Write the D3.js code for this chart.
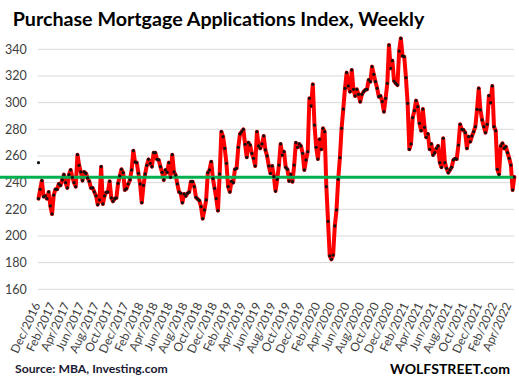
<!DOCTYPE html>
<html><head><meta charset="utf-8">
<script src="https://cdn.jsdelivr.net/npm/d3@7"></script>
<style>body{margin:0;background:#fff}svg{display:block}</style>
</head><body>
<svg id="chart" width="519" height="391"></svg>
<script>
const chartTitle = "Purchase Mortgage Applications Index, Weekly";
const sourceText = "Source: MBA, Investing.com";
const brandText = "WOLFSTREET.com";
const firstWeek = "2016-12-02";
const strayFirstValue = 255;
const referenceLevel = 244;
const yTickValues = [160, 180, 200, 220, 240, 260, 280, 300, 320, 340];
const xTickLabels = ["Dec/2016","Feb/2017","Apr/2017","Jun/2017","Aug/2017","Oct/2017","Dec/2017",
  "Feb/2018","Apr/2018","Jun/2018","Aug/2018","Oct/2018","Dec/2018","Feb/2019","Apr/2019","Jun/2019",
  "Aug/2019","Oct/2019","Dec/2019","Feb/2020","Apr/2020","Jun/2020","Aug/2020","Oct/2020","Dec/2020",
  "Feb/2021","Apr/2021","Jun/2021","Aug/2021","Oct/2021","Dec/2021","Feb/2022","Apr/2022"];
const purchaseIndex = [
228, 235, 241.5, 229.5, 230, 228, 233, 222.5, 216.5, 230.7,
235, 235, 239, 238, 242, 246, 240, 236, 246, 249.5,
244, 240, 237, 261, 253, 248, 241.5, 248, 247, 243.5,
241, 236, 236, 233, 230, 223.5, 227, 252, 224, 230,
232.7, 233, 241, 228.5, 226, 228, 228.5, 239.5, 245, 250,
247.5, 234.5, 235.5, 239, 242, 249.5, 264, 255.5, 255, 247,
239, 225, 238, 246.5, 253, 257.5, 254.5, 252, 262.5, 262.5,
257.5, 257, 252, 247.7, 242, 249.5, 247.7, 255, 244, 261,
248, 245.7, 239, 233, 232, 225, 231.5, 230, 232, 233,
240.7, 240.7, 237, 229, 227.7, 226.5, 222, 213, 219.5, 227,
247.5, 249.5, 255.7, 243, 235.7, 228, 219, 246.5, 278.2, 274.5,
265.7, 254.5, 237, 233, 241, 240, 250, 250.7, 266.5, 276.5,
278.2, 280, 268.7, 259, 270, 268.2, 262, 258.2, 252.5, 278.2,
267.5, 265.7, 269, 275, 264.5, 260, 252.5, 247, 252.5, 244.5,
233.7, 242.5, 253.2, 269, 260.7, 263.2, 251.5, 250, 241.2, 246.2,
240.7, 253.2, 270, 266.5, 269, 267.5, 262, 249.5, 257, 263.2,
303.2, 297.5, 313.7, 283.2, 266.5, 257.7, 272.5, 265, 280.7, 278.2,
237, 211, 185, 182.5, 185.7, 207.5, 219.5, 242.5, 258.7, 280.7,
295.2, 310.7, 322.5, 312.5, 308.2, 324.5, 310, 305, 310, 306.2,
300.7, 306.2, 308.2, 309.5, 310, 317, 315.7, 327, 321.2, 315.7,
310.7, 304.5, 305, 300.7, 293.2, 303.2, 314.5, 343.2, 325.7, 331.5,
316.2, 314.5, 313.2, 338.7, 348.2, 335, 334.5, 318.7, 299.5, 265,
269, 288.7, 294, 301.5, 297, 284.5, 279, 295.2, 281.5, 274,
276.5, 265, 269, 260.7, 262.5, 265.7, 267.5, 255, 251.5, 273.2,
255, 250.7, 247.5, 249.5, 251.5, 257, 258, 257.7, 268.2, 283.7,
280, 279.5, 277.5, 265.7, 274.5, 270.7, 275, 278.2, 282, 295,
310.7, 294.5, 287, 282, 277.5, 283.7, 305.2, 300, 312.5, 282,
279, 250, 246.2, 267.5, 269.5, 265.7, 267, 262.5, 258.2, 253.2,
234.5, 244.2
];

const FONT = "Lato, 'Open Sans', sans-serif";
const svg = d3.select("#chart");
const start = d3.isoParse(firstWeek + "T00:00:00");
const data = purchaseIndex.map((v, i) => ({date: d3.timeDay.offset(start, 7 * i), value: v}));
const parseLabel = d3.timeParse("%b/%Y");

const x = d3.scaleTime().domain([data[0].date, data[data.length - 1].date]).range([38.5, 514.3]);
const y = d3.scaleLinear().domain([160, 340]).range([289.3, 49.3]);

// gridlines
svg.append("g").selectAll("line").data(yTickValues).join("line")
  .attr("x1", 38).attr("x2", 514)
  .attr("y1", d => y(d)).attr("y2", d => y(d))
  .attr("stroke", "#d9d9d9").attr("stroke-width", 1);

// y labels
svg.append("g").selectAll("text").data(yTickValues).join("text")
  .attr("x", 26.7).attr("y", d => y(d)).attr("dy", "0.36em")
  .attr("text-anchor", "end").attr("font-family", FONT).attr("font-size", 12.5)
  .attr("fill", "#404040").text(d => d);

// x labels
svg.append("g").selectAll("text").data(xTickLabels).join("text")
  .attr("transform", d => `translate(${x(parseLabel(d)) + 2.5},305) rotate(-65)`)
  .attr("text-anchor", "end").attr("font-family", FONT).attr("font-size", 12)
  .attr("fill", "#404040").text(d => d);

// red line
const line = d3.line().x(d => x(d.date)).y(d => y(d.value)).curve(d3.curveLinear);
svg.append("path").datum(data).attr("d", line)
  .attr("fill", "none").attr("stroke", "#ff0000").attr("stroke-width", 4)
  .attr("stroke-linejoin", "round").attr("stroke-linecap", "round");

// green reference line
svg.append("line").attr("x1", 0).attr("x2", 513.5)
  .attr("y1", y(referenceLevel)).attr("y2", y(referenceLevel))
  .attr("stroke", "#00b050").attr("stroke-width", 3);

// dots
svg.append("g").selectAll("circle").data(data.concat([{date: data[0].date, value: strayFirstValue}])).join("circle")
  .attr("cx", d => x(d.date)).attr("cy", d => y(d.value)).attr("r", 1.6).attr("fill", "#111");

// title
function fitText(sel, width) {
  const w = sel.node().getComputedTextLength();
  const fs = parseFloat(sel.attr("font-size"));
  sel.attr("font-size", fs * width / w);
}
const t = svg.append("text").attr("x", 12.7).attr("y", 25.5)
  .attr("font-family", FONT).attr("font-weight", "bold").attr("font-size", 17)
  .attr("fill", "#000").text(chartTitle);
fitText(t, 412);

const s = svg.append("text").attr("x", 15).attr("y", 373)
  .attr("font-family", FONT).attr("font-weight", "bold").attr("font-size", 11)
  .attr("fill", "#1a1a33").text(sourceText);
fitText(s, 153);

const b = svg.append("text").attr("x", 510).attr("y", 373.5).attr("text-anchor", "end")
  .attr("font-family", FONT).attr("font-weight", "bold").attr("font-size", 14)
  .attr("fill", "#000").text(brandText);
fitText(b, 120);
</script>
</body></html>
